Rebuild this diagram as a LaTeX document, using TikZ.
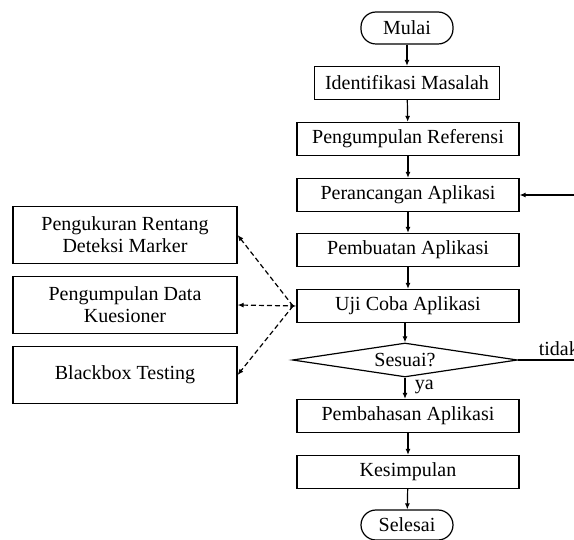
\documentclass[tikz,border=0pt]{standalone}
\usepackage{fontspec}
\setmainfont{Liberation Serif}
\usetikzlibrary{shapes.geometric,arrows.meta}
\begin{document}
\begin{tikzpicture}[x=1pt,y=-1pt,
  font=\fontsize{20}{22}\selectfont,
  every path/.style={line width=1.2pt},
  procbox/.style={draw, rectangle, minimum width=222pt, minimum height=33pt, inner sep=2pt},
  sidebox/.style={draw, rectangle, minimum width=224pt, minimum height=57pt, align=center, inner sep=2pt},
  termbox/.style={draw, rectangle, rounded corners=15pt, minimum width=92pt, minimum height=32pt, inner sep=2pt},
  decbox/.style={draw, diamond, aspect=6.6, inner sep=0pt, minimum width=225pt, minimum height=34pt},
  flow/.style={-{Latex[length=6pt,width=5pt]}},
  dflow/.style={dashed, dash pattern=on 5pt off 3pt, -{Latex[length=6pt,width=5pt]}},
  ddflow/.style={dashed, dash pattern=on 5pt off 3pt, {Latex[length=6pt,width=5pt]}-{Latex[length=6pt,width=5pt]}}
]
\useasboundingbox (0,0) rectangle (574,540);
\node[termbox] (mulai) at (407,28) {Mulai};
\node[procbox, minimum width=185pt] (ident) at (407,83) {Identifikasi Masalah};
\node[procbox] (ref) at (408,139) {Pengumpulan Referensi};
\node[procbox] (ranc) at (408,195) {Perancangan Aplikasi};
\node[procbox] (buat) at (408,250) {Pembuatan Aplikasi};
\node[procbox] (uji) at (408,306) {Uji Coba Aplikasi};
\node[decbox] (ses) at (405,360) {Sesuai?};
\node[procbox] (bahas) at (408,416) {Pembahasan Aplikasi};
\node[procbox] (simp) at (408,472) {Kesimpulan};
\node[termbox, minimum height=30pt] (sel) at (407,525) {Selesai};

\node[sidebox] (ukur) at (125,235) {Pengukuran Rentang\\Deteksi Marker};
\node[sidebox] (data) at (125,305) {Pengumpulan Data\\Kuesioner};
\node[sidebox] (black) at (125,375) {Blackbox Testing};

\draw[flow] (mulai) -- (ident);
\draw[flow] (ident) -- (ref);
\draw[flow] (ref) -- (ranc);
\draw[flow] (ranc) -- (buat);
\draw[flow] (buat) -- (uji);
\draw[flow] (uji.south -| ses.north) -- (ses.north);
\draw[flow] (ses.south) -- (ses.south |- bahas.north) node[pos=0.45, right=6pt] {ya};
\draw[flow] (bahas) -- (simp);
\draw[flow] (simp) -- (sel);

\coordinate (rt) at (574,360);
\coordinate (rtop) at (574,195);
\draw (ses.east) -- (rt) node[pos=0.3, above=0pt, anchor=south west] {tidak};
\draw[flow] (rtop) -- (ranc.east);

\coordinate (hub) at (293,306);
\draw[dflow] (hub) -- (ukur.east);
\draw[ddflow] (data.east) -- (uji.west);
\draw[dflow] (hub) -- (black.east);
\end{tikzpicture}
\end{document}
